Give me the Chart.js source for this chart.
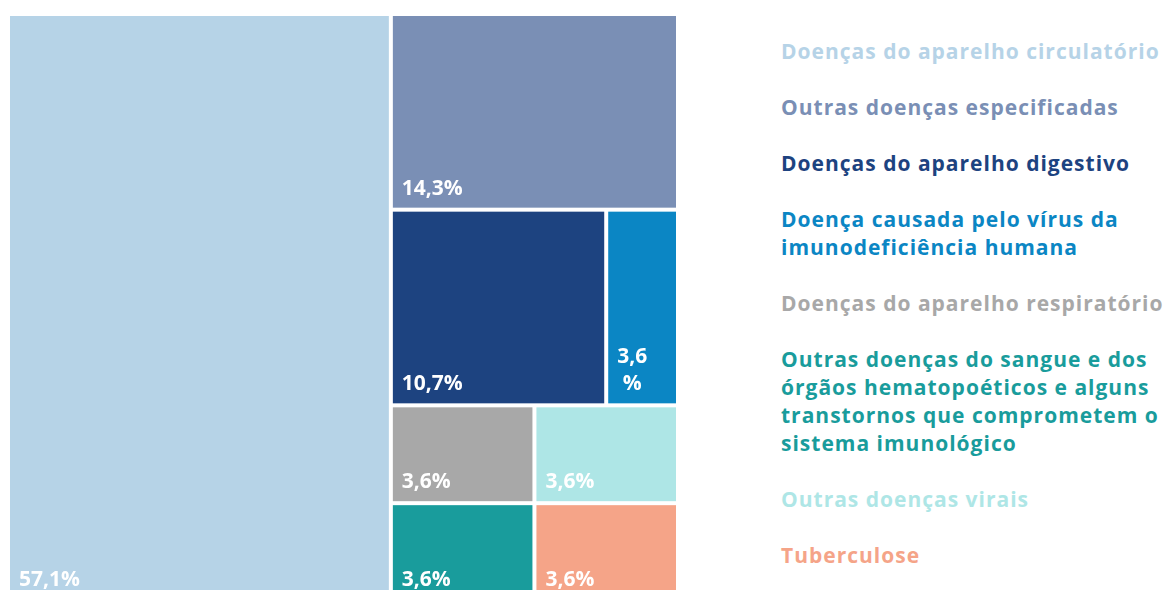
<!DOCTYPE html>
<html>
<head>
<meta charset="utf-8">
<script src="https://cdn.jsdelivr.net/npm/chart.js@4.4.1/dist/chart.umd.min.js"></script>
<style>
body{margin:0;width:1169px;height:590px;overflow:hidden;background:#fff;font-family:"Open Sans",Lato,sans-serif}
#box{position:absolute;left:0;top:0;width:700px;height:620px}
#legend{position:absolute;left:781px;top:37px;width:388px}
#legend div{font-weight:700;font-size:21px;letter-spacing:1px;line-height:28px;margin-bottom:28px;white-space:nowrap}
</style>
</head>
<body>
<div id="box"><canvas id="treeChart" width="700" height="620"></canvas></div>
<div id="legend"></div>
<script>
// causas de óbito (número de casos)
const categories = [
["Doenças do aparelho circulatório"],
["Outras doenças especificadas"],
["Doenças do aparelho digestivo"],
["Doença causada pelo vírus da","imunodeficiência humana"],
["Doenças do aparelho respiratório"],
["Outras doenças do sangue e dos","órgãos hematopoéticos e alguns","transtornos que comprometem o","sistema imunológico"],
["Outras doenças virais"],
["Tuberculose"]
]
const values = [16,4,3,1,1,1,1,1]
const colors = ["#b6d3e7","#7a8fb5","#1d4380","#0b86c4","#a8a8a8","#199c9c","#aee6e6","#f5a488"]

const total = values.reduce((a,b)=>a+b,0)

// legend
const legend = document.getElementById("legend")
categories.forEach((lines,i)=>{
let d = document.createElement("div")
d.style.color = colors[i]
d.innerHTML = lines.join("<br>")
legend.appendChild(d)
})

// squarified layout, rows kept while the mean aspect ratio improves
function avgRatio(row, side, scale){
let t = row.reduce((a,b)=>a+b,0)*scale/side
let s = 0
row.forEach(v=>{
let len = v*scale/t
s += Math.max(len/t, t/len)
})
return s/row.length
}

function layout(W, H){
let rects = []
let r = {x:0,y:0,w:1,h:1}
let rest = total
let i = 0
while(i < values.length){
let pw = r.w*W, ph = r.h*H
let alongWidth = pw <= ph
let side = alongWidth ? pw : ph
let scale = pw*ph/rest
let row = [values[i]]
let best = avgRatio(row, side, scale)
let j = i+1
while(j < values.length){
let cand = row.concat(values[j])
let a = avgRatio(cand, side, scale)
if(a <= best){ row = cand; best = a; j++ } else break
}
let sum = row.reduce((a,b)=>a+b,0)
let t = sum*scale/side
let pos = 0
row.forEach((v,k)=>{
let len = v*scale/t
if(alongWidth){
rects.push({i:i+k, x:r.x+pos/W, y:r.y, w:len/W, h:t/H})
}else{
rects.push({i:i+k, x:r.x, y:r.y+pos/H, w:t/W, h:len/H})
}
pos += len
})
if(alongWidth){ r.y += t/H; r.h -= t/H }else{ r.x += t/W; r.w -= t/W }
rest -= sum
i = j
}
return rects
}

const treemapPlugin = {
id:"treemap",
afterDatasetsDraw(chart){
const ctx = chart.ctx
const xs = chart.scales.x, ys = chart.scales.y
const area = chart.chartArea
const rects = layout(area.right-area.left, area.bottom-area.top)
const gap = 2
ctx.save()
rects.forEach(rc=>{
let x0 = xs.getPixelForValue(rc.x)+gap
let x1 = xs.getPixelForValue(rc.x+rc.w)-gap
let y0 = ys.getPixelForValue(rc.y)+gap
let y1 = ys.getPixelForValue(rc.y+rc.h)-gap
ctx.fillStyle = colors[rc.i]
ctx.fillRect(x0, y0, x1-x0, y1-y0)

let txt = (values[rc.i]/total*100).toFixed(1).replace(".",",") + "%"
ctx.font = "700 21px 'Open Sans', Lato, sans-serif"
ctx.fillStyle = "#ffffff"
ctx.textBaseline = "alphabetic"
let pad = 9
let lines = [txt]
if(ctx.measureText(txt).width > x1-x0-2*pad-10){
lines = [txt.slice(0,-1), "%"]
}
let bw = Math.max(...lines.map(l=>ctx.measureText(l).width))
lines.forEach((l,k)=>{
let y = y1 - 13 - (lines.length-1-k)*27
if(lines.length>1){
ctx.textAlign = "center"
ctx.fillText(l, x0+pad+bw/2, y)
}else{
ctx.textAlign = "left"
ctx.fillText(l, x0+pad, y)
}
})
})
ctx.restore()
}
}

const ctx = document.getElementById("treeChart").getContext("2d")

new Chart(ctx,{
type:"scatter",
data:{
datasets:[{
label:"Óbitos",
data:[]
}]
},
options:{
responsive:false,
animation:false,
layout:{
padding:{left:8,top:14,right:22,bottom:19}
},
plugins:{
legend:{display:false},
tooltip:{enabled:false}
},
scales:{
x:{type:"linear",min:0,max:1,display:false},
y:{type:"linear",min:0,max:1,reverse:true,display:false}
}
},
plugins:[treemapPlugin]
})
</script>
</body>
</html>
